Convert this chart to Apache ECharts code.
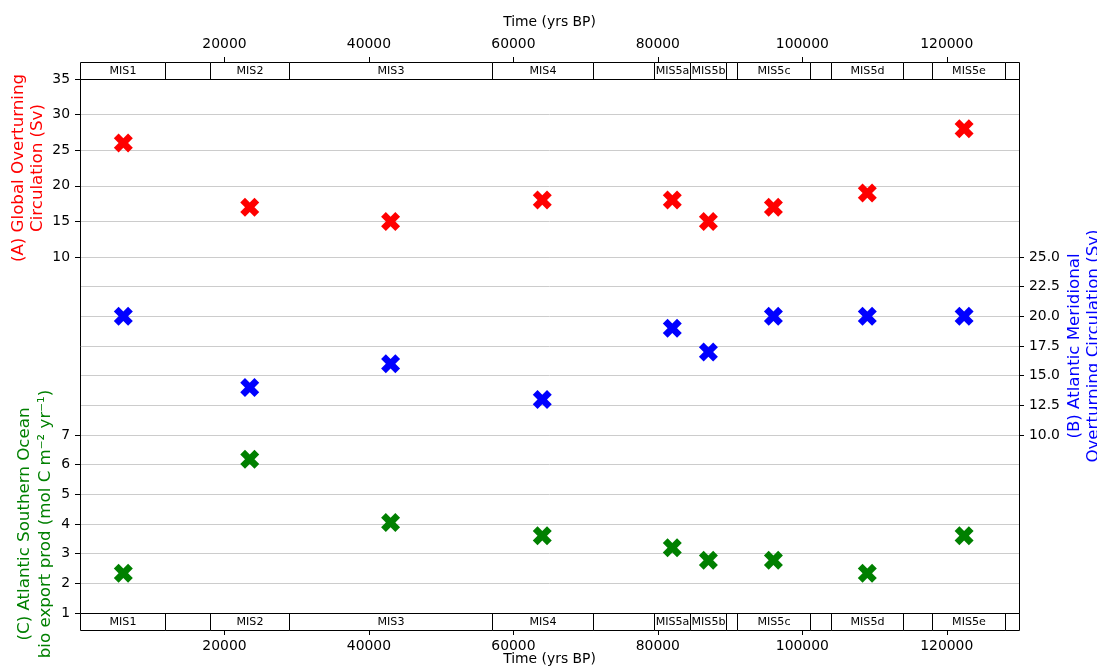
<!DOCTYPE html>
<html><head><meta charset="utf-8">
<script src="https://cdn.jsdelivr.net/npm/echarts@6/dist/echarts.min.js"></script>
<style>html,body{margin:0;padding:0;background:#fff}#c{width:1097px;height:667px}</style>
</head><body><div id="c"></div>
<script>
// ---- data ----
const stageNames = ['MIS1','MIS2','MIS3','MIS4','MIS5a','MIS5b','MIS5c','MIS5d','MIS5e'];
const stageAges = [6000, 23500, 43000, 64000, 82000, 87000, 96000, 109000, 122400];
const globalMOC = [26, 17, 15, 18, 18, 15, 17, 19, 28];
const atlanticMOC = [20, 14, 16, 13, 19, 17, 20, 20, 20];
const bioExport = [2.34, 6.18, 4.05, 3.6, 3.2, 2.78, 2.78, 2.34, 3.6];

const misNames  = ['MIS1','','MIS2','MIS3','MIS4','','MIS5a','MIS5b','','MIS5c','','MIS5d','','MIS5e',''];
const misStarts = [0, 11700, 18000, 29000, 57000, 71000, 79500, 84500, 89500, 91000, 101000, 104000, 114000, 118000, 128000];
const misEnds   = [11700, 18000, 29000, 57000, 71000, 79500, 84500, 89500, 91000, 101000, 104000, 114000, 118000, 128000, 130000];

const timeTicks = [20000, 40000, 60000, 80000, 100000, 120000];
const xRange = [0, 130000];
const axisARange = [10, 35, 5];
const axisBRange = [10, 25, 2.5];
const axisCRange = [1, 7, 1];

// ---- chart ----
const FONT = 'DejaVu Sans';
const TICK = 13.9, NAMEF = 16.67, MISF = 11.1;
const GRID = '#cccccc';
const XPATH = 'path://M3,0L2,1L1,0L0,1L1,2L0,3L1,4L2,3L3,4L4,3L3,2L4,1Z';
const L = 80, W = 939;

const chart = echarts.init(document.getElementById('c'), null, {renderer: 'canvas'});

function gridDef(left, top, width, height, extra) {
  return Object.assign({left: left, width: width, top: top, height: height, containLabel: false, outerBoundsMode: 'none'}, extra || {});
}

function hiddenX(gi) {
  return {type: 'value', gridIndex: gi, min: xRange[0], max: xRange[1], show: false, axisLine: {onZero: false}};
}
function hiddenY(gi) {
  return {type: 'value', gridIndex: gi, min: 0, max: 1, show: false, axisLine: {onZero: false}};
}

function timeAxis(gi, pos) {
  const top = pos === 'top';
  return {
    type: 'value', gridIndex: gi, position: pos, min: xRange[0], max: xRange[1],
    name: 'Time (yrs BP)', nameLocation: 'middle', nameGap: top ? 33 : 22, nameMoveOverlap: false,
    nameTextStyle: {fontFamily: FONT, fontSize: TICK, color: '#000'},
    axisLine: {show: false, onZero: false},
    axisTick: {show: true, inside: false, length: 5, lineStyle: {color: '#000', width: 1}, customValues: timeTicks},
    axisLabel: {show: true, margin: top ? 11 : 9, fontFamily: FONT, fontSize: TICK, color: '#000', customValues: timeTicks,
      formatter: v => String(v)},
    splitLine: {show: false}, minorTick: {show: false}
  };
}

function valueAxis(gi, pos, range, name, color, gap, lh, fmt) {
  return {
    type: 'value', gridIndex: gi, position: pos, min: range[0], max: range[1], interval: range[2],
    name: name, nameLocation: 'middle', nameGap: gap, nameRotate: 90, nameMoveOverlap: false,
    nameTextStyle: {fontFamily: FONT, fontSize: NAMEF, color: color, lineHeight: lh, align: 'center'},
    axisLine: {show: false, onZero: false},
    axisTick: {show: true, inside: false, length: 5, lineStyle: {color: '#000', width: 1}},
    axisLabel: {show: true, margin: 10, fontFamily: FONT, fontSize: TICK, color: '#000', formatter: fmt},
    splitLine: {show: true, lineStyle: {color: GRID, width: 1}}
  };
}

function bandRender(params, api) {
  const s = api.value(0), e = api.value(1);
  const p0 = api.coord([s, 1]);
  const p1 = api.coord([e, 0]);
  const x0 = Math.round(p0[0]) + 0.5, x1 = Math.round(p1[0]) + 0.5;
  const y0 = Math.round(p0[1]) + 0.5, y1 = Math.round(p1[1]) + 0.5;
  return {
    type: 'group',
    children: [
      {type: 'rect', shape: {x: x0, y: y0, width: x1 - x0, height: y1 - y0},
       style: {fill: '#fff', stroke: '#000', lineWidth: 1}},
      {type: 'text', style: {text: misNames[params.dataIndex], x: (x0 + x1) / 2, y: (y0 + y1) / 2 + 0.5,
        align: 'center', verticalAlign: 'middle', fontFamily: FONT, fontSize: MISF, fill: '#000'}}
    ]
  };
}

const bandData = misStarts.map((s, i) => [s, misEnds[i]]);
const pts = vals => stageAges.map((a, i) => [a, vals[i]]);

const option = {
  animation: false,
  backgroundColor: '#fff',
  grid: [
    gridDef(L, 79, W, 178),   // 0 A
    gridDef(L, 257, W, 178),  // 1 B
    gridDef(L, 435, W, 178),  // 2 C
    gridDef(L, 62, W, 17),    // 3 top band
    gridDef(L, 613, W, 17),   // 4 bottom band
    gridDef(80.5, 79.5, 939, 534, {show: true, borderColor: '#000', borderWidth: 1, backgroundColor: 'transparent', z: 8}) // 5 frame
  ],
  xAxis: [hiddenX(0), hiddenX(1), hiddenX(2), timeAxis(3, 'top'), timeAxis(4, 'bottom'), hiddenX(5)],
  yAxis: [
    valueAxis(0, 'left', axisARange, '(A) Global Overturning\nCirculation (Sv)', '#ff0000', 33, 19, v => String(v)),
    valueAxis(1, 'right', axisBRange, '(B) Atlantic Meridional\nOverturning Circulation (Sv)', '#0000ff', 46, 19, v => v.toFixed(1)),
    valueAxis(2, 'left', axisCRange, '(C) Atlantic Southern Ocean\nbio export prod (mol C m\u207b\u00b2 yr\u207b\u00b9)', '#008000', 24, 21, v => String(v)),
    hiddenY(3), hiddenY(4), hiddenY(5)
  ],
  series: [
    {type: 'custom', xAxisIndex: 3, yAxisIndex: 3, data: bandData, renderItem: bandRender, encode: {x: [0, 1]}, silent: true, z: 5},
    {type: 'custom', xAxisIndex: 4, yAxisIndex: 4, data: bandData, renderItem: bandRender, encode: {x: [0, 1]}, silent: true, z: 5},
    {type: 'scatter', name: 'A', xAxisIndex: 0, yAxisIndex: 0, data: pts(globalMOC), symbol: XPATH, symbolSize: 19,
     itemStyle: {color: '#ff0000', opacity: 1}, z: 10, clip: false},
    {type: 'scatter', name: 'B', xAxisIndex: 1, yAxisIndex: 1, data: pts(atlanticMOC), symbol: XPATH, symbolSize: 19,
     itemStyle: {color: '#0000ff', opacity: 1}, z: 10, clip: false},
    {type: 'scatter', name: 'C', xAxisIndex: 2, yAxisIndex: 2, data: pts(bioExport), symbol: XPATH, symbolSize: 19,
     itemStyle: {color: '#008000', opacity: 1}, z: 10, clip: false}
  ]
};
chart.setOption(option);
</script>
</body></html>
